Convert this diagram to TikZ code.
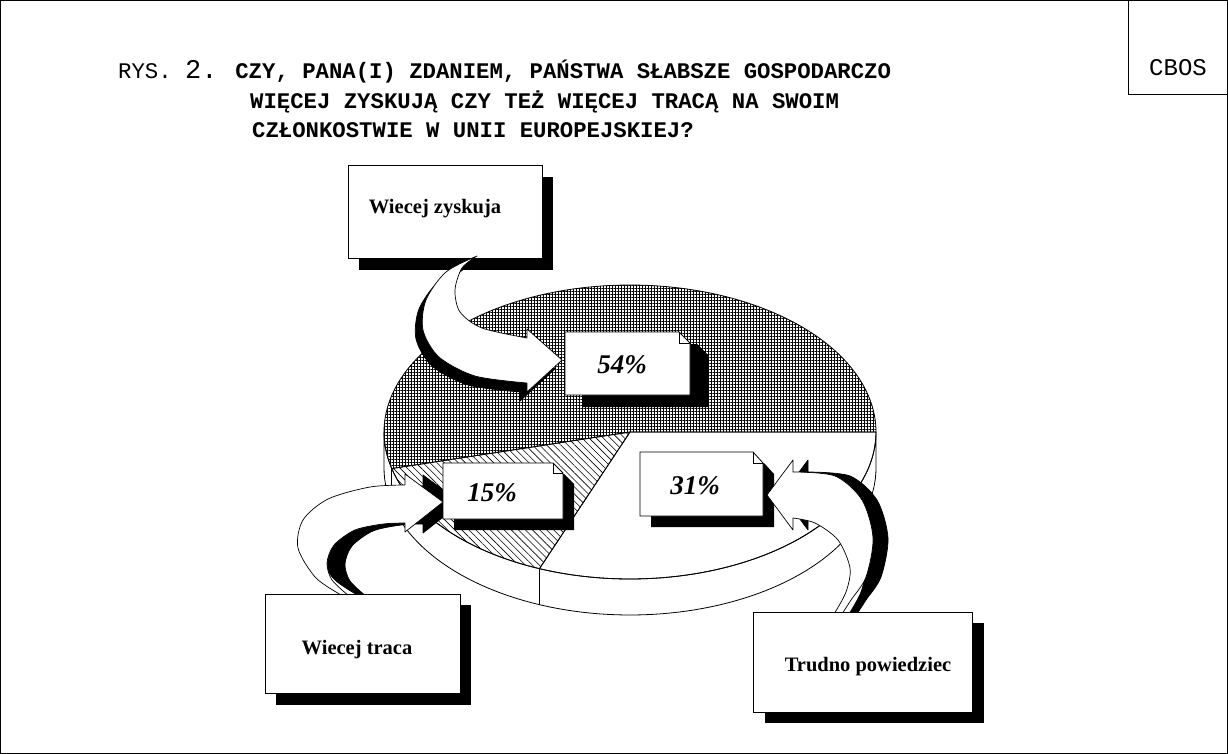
\documentclass[tikz,border=0pt]{standalone}
\usepackage{fontspec}
\setmainfont{Liberation Serif}
\newfontfamily\cbmono{Liberation Mono}
\usetikzlibrary{patterns,patterns.meta}
\begin{document}
\begin{tikzpicture}[x=1pt,y=-1pt,
  thinline/.style={draw=black,line width=0.8pt},
  boxface/.style={fill=white,draw=black,line width=0.8pt},
  boxshadow/.style={fill=black},
  lbl/.style={font=\fontsize{20.5}{24}\selectfont\bfseries,inner sep=0pt,anchor=base},
  pct/.style={font=\fontsize{27}{30}\selectfont\bfseries\itshape,inner sep=0pt,anchor=base},
  arrowface/.style={fill=white,draw=black,line width=0.7pt,line join=round},
  arrowback/.style={fill=black,draw=black,line width=0.7pt,line join=round},
  gridfill/.style={pattern={Hatch[angle=0,distance=3pt,line width=1pt]}},
  hatchfill/.style={pattern={Lines[angle=-45,distance=5pt,line width=0.6pt]}},
  titlefont/.style={font=\cbmono\fontsize{22.3}{26}\selectfont,inner sep=0pt,anchor=base west}
]
\useasboundingbox (0,0) rectangle (1228,754);
% frame
\draw[line width=1pt] (0.5,0.5) rectangle (1227.5,753.5);
\draw[line width=1pt] (1128,0) -- (1128,95) -- (1228,95);
\node[font=\cbmono\fontsize{24}{28}\selectfont,inner sep=0pt] (cbos) at (1178,68) {CBOS};
% title
\node[titlefont] (t1) at (118,79) {RYS. {\fontsize{27}{30}\selectfont 2.} \bfseries CZY, PANA(I) ZDANIEM, PAŃSTWA SŁABSZE GOSPODARCZO};
\node[titlefont] (t2) at (250,109) {\bfseries WIĘCEJ ZYSKUJĄ CZY TEŻ WIĘCEJ TRACĄ NA SWOIM};
\node[titlefont] (t3) at (252,138) {\bfseries CZŁONKOSTWIE W UNII EUROPEJSKIEJ?};
% pie
\def\pcx{630}\def\pcy{432}\def\prx{246}\def\pry{147}\def\pdd{36}
\path[boxface] plot[domain=180:360,samples=90] ({\pcx+\prx*cos(\x)},{\pcy-\pry*sin(\x)}) -- plot[domain=360:180,samples=90] ({\pcx+\prx*cos(\x)},{\pcy+\pdd-\pry*sin(\x)}) -- cycle;
\draw[thinline] ({\pcx+\prx*cos(194.4)},{\pcy-\pry*sin(194.4)}) -- ++(0,\pdd);
\draw[thinline] ({\pcx+\prx*cos(248.4)},{\pcy-\pry*sin(248.4)}) -- ++(0,\pdd);
\path[gridfill] (\pcx,\pcy) -- plot[domain=0:194.4,samples=120] ({\pcx+\prx*cos(\x)},{\pcy-\pry*sin(\x)}) -- cycle;
\path[thinline] (\pcx,\pcy) -- plot[domain=0:194.4,samples=120] ({\pcx+\prx*cos(\x)},{\pcy-\pry*sin(\x)}) -- cycle;
\path[hatchfill] (\pcx,\pcy) -- plot[domain=194.4:248.4,samples=60] ({\pcx+\prx*cos(\x)},{\pcy-\pry*sin(\x)}) -- cycle;
\path[thinline] (\pcx,\pcy) -- plot[domain=194.4:248.4,samples=60] ({\pcx+\prx*cos(\x)},{\pcy-\pry*sin(\x)}) -- cycle;
\path[thinline] (\pcx,\pcy) -- plot[domain=248.4:360,samples=90] ({\pcx+\prx*cos(\x)},{\pcy-\pry*sin(\x)}) -- cycle;
% box: Wiecej zyskuja
\fill[boxshadow] (359,177) rectangle (553,270);
\draw[boxface] (348,165) rectangle (542,258);
\node[lbl] (zysk) at (435,214) {Wiecej zyskuja};
% arrow 1
\def\arrowA{plot[smooth] coordinates {(477,256) (446,272) (426,300) (423,330) (439,357) (475,376) (527,383)} -- (527,392) -- (562,360) -- (527,329) -- (527,338) -- plot[smooth] coordinates {(527,338) (482,328) (460,312) (455,290) (462,268) (477,256)} -- cycle}
\path[arrowback,shift={(-7,9)}] \arrowA;
\path[arrowface] \arrowA;
% box 54%
\fill[boxshadow] (583,344) -- (697,344) -- (708,355) -- (708,407) -- (583,407) -- cycle;
\draw[boxface] (565,332) -- (679,332) -- (690,343) -- (690,395) -- (565,395) -- cycle;
\draw[thinline] (679,332) -- (679,343) -- (690,343);
\node[pct] (p54) at (622,373) {54\%};
% box 31%
\fill[boxshadow] (651,463) -- (764,463) -- (774,474) -- (774,527) -- (651,527) -- cycle;
\draw[boxface] (640,452) -- (753,452) -- (763,463) -- (763,516) -- (640,516) -- cycle;
\draw[thinline] (753,452) -- (753,463) -- (763,463);
\node[pct] (p31) at (695,494) {31\%};
% arrow 3
\def\arrowC{plot[smooth] coordinates {(793,472) (835,476) (862,500) (873,538) (866,577) (851,600) (842,614)} -- (834,614) -- plot[smooth] coordinates {(834,614) (846,592) (850,568) (838,540) (815,523) (793,518)} -- (793,530) -- (767,495) -- (793,460) -- cycle}
\path[arrowback,shift={(15,0)}] \arrowC;
\path[arrowface] \arrowC;
% arrow 2
\def\arrowB{plot[smooth] coordinates {(343,596) (316,578) (298,548) (303,520) (328,499) (370,487) (405,485)} -- (405,474) -- (443,502) -- (405,532) -- (405,523) -- plot[smooth] coordinates {(405,523) (383,524) (355,530) (334,545) (327,563) (332,580) (349,596)} -- cycle}
\path[arrowback,shift={(18,1)}] \arrowB;
\path[arrowface] \arrowB;
% box 15%
\fill[boxshadow] (454,474) -- (564,474) -- (574,484) -- (574,530) -- (454,530) -- cycle;
\draw[boxface] (443,463) -- (553,463) -- (563,473) -- (563,519) -- (443,519) -- cycle;
\draw[thinline] (553,463) -- (553,473) -- (563,473);
\node[pct] (p15) at (492,501) {15\%};
% box Wiecej traca
\fill[boxshadow] (276,605) rectangle (471,705);
\draw[boxface] (265,594) rectangle (460,693);
\node[lbl] (trac) at (357,654) {Wiecej traca};
% box Trudno powiedziec
\fill[boxshadow] (765,623) rectangle (984,723);
\draw[boxface] (753,612) rectangle (972,712);
\node[lbl] (trud) at (868,671) {Trudno powiedziec};
\end{tikzpicture}
\end{document}
